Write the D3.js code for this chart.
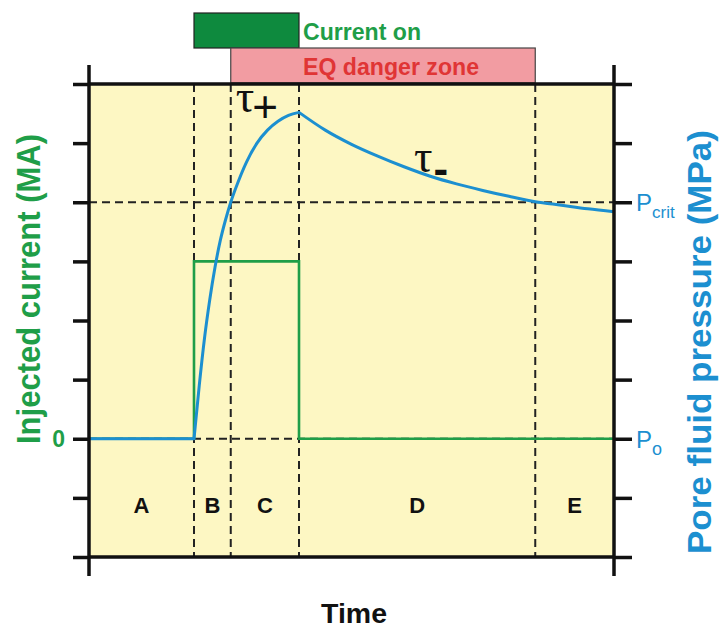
<!DOCTYPE html>
<html><head><meta charset="utf-8">
<script src="https://cdn.jsdelivr.net/npm/d3@7"></script>
<style>body{margin:0;background:#fff}svg{display:block}</style>
</head><body>
<script>
// ---- data ----
const phaseBounds = [20, 27, 40, 85];           // time of phase boundaries
const phaseLabels = ["A", "B", "C", "D", "E"];
const yTicks = [-2, -1, 0, 1, 2, 3, 4, 5, 6];
const currentTime  = [0, 20, 20, 40, 40, 100];
const currentValue = [0, 0, 3, 3, 0, 0];
// pressure, split into flat / rise / decay segments (sharp corners at 20 and 40)
const flatTime  = [0, 20];
const flatValue = [0, 0];
const riseTime  = [20, 21, 22, 23, 24, 25, 26, 27, 28, 30, 32, 34, 36, 38, 40];
const riseValue = [0, 0.9, 1.7, 2.35, 2.9, 3.35, 3.7, 4.0, 4.25, 4.68, 5.0, 5.22, 5.37, 5.47, 5.52];
const decayTime  = [40, 45, 50, 55, 60, 65, 70, 75, 80, 85, 90, 95, 100];
const decayValue = [5.52, 5.22, 4.98, 4.78, 4.60, 4.44, 4.31, 4.20, 4.10, 4.01, 3.95, 3.89, 3.84];
const pCrit = 4, pZero = 0;
const currentOn = [20, 40];
const dangerZone = [27, 85];

// ---- layout ----
const W = 720, H = 629;
const svg = d3.select("body").append("svg").attr("width", W).attr("height", H);
const x = d3.scaleLinear().domain([0, 100]).range([89, 614]);
const y = d3.scaleLinear().domain([-2, 6]).range([557, 84]);
const green = "#1f9e48", blue = "#1c8fd0";
const sans = "Liberation Sans, Arial, sans-serif", serif = "Liberation Serif, Times New Roman, serif";

// background
svg.append("rect").attr("x", x(0)).attr("y", y(6)).attr("width", x(100) - x(0)).attr("height", y(-2) - y(6)).attr("fill", "#fdf7c3");

// top annotation bars
svg.append("rect").attr("x", x(currentOn[0])).attr("y", 13).attr("width", x(currentOn[1]) - x(currentOn[0])).attr("height", 35)
  .attr("fill", "#0e8a3e").attr("stroke", "#222").attr("stroke-width", 1.2);
svg.append("rect").attr("x", x(dangerZone[0])).attr("y", 48).attr("width", x(dangerZone[1]) - x(dangerZone[0])).attr("height", 35)
  .attr("fill", "#f29ca2").attr("stroke", "#444").attr("stroke-width", 1.2);
svg.append("text").attr("x", x(currentOn[1]) + 4).attr("y", 40).text("Current on")
  .attr("font-family", sans).attr("font-weight", "bold").attr("font-size", 24).attr("fill", green)
  .attr("textLength", 118).attr("lengthAdjust", "spacingAndGlyphs");
svg.append("text").attr("x", x(currentOn[1]) + 4).attr("y", 75).text("EQ danger zone")
  .attr("font-family", sans).attr("font-weight", "bold").attr("font-size", 24).attr("fill", "#e03535")
  .attr("textLength", 176).attr("lengthAdjust", "spacingAndGlyphs");

// dashed guides
const dash = "8,5";
phaseBounds.forEach(b => svg.append("line").attr("x1", x(b)).attr("x2", x(b)).attr("y1", y(6)).attr("y2", y(-2))
  .attr("stroke", "#222").attr("stroke-width", 2).attr("stroke-dasharray", dash));
[pCrit, pZero].forEach(v => svg.append("line").attr("x1", x(0)).attr("x2", x(100)).attr("y1", y(v)).attr("y2", y(v))
  .attr("stroke", "#222").attr("stroke-width", 2).attr("stroke-dasharray", dash));

// current line
const line = d3.line().x(d => x(d[0])).y(d => y(d[1]));
svg.append("path").attr("d", line(currentTime.map((t, i) => [t, currentValue[i]])))
  .attr("fill", "none").attr("stroke", green).attr("stroke-width", 2.6);
// pressure curve
const pline = d3.line().x(d => x(d[0])).y(d => y(d[1])).curve(d3.curveMonotoneX);
const zip = (ts, vs) => ts.map((t, i) => [t, vs[i]]);
const pd = pline(zip(flatTime, flatValue)) + pline(zip(riseTime, riseValue)).replace(/^M[^CL]*/, m => "L" + m.slice(1)) +
           pline(zip(decayTime, decayValue)).replace(/^M[^CL]*/, m => "L" + m.slice(1));
svg.append("path").attr("d", pd).attr("fill", "none").attr("stroke", blue).attr("stroke-width", 3).attr("stroke-linejoin", "round");

// frame & axes
const ax = svg.append("g");
ax.append("g").attr("transform", `translate(${x(0)},0)`).call(d3.axisLeft(y).tickValues(yTicks).tickSize(16).tickFormat(""));
ax.append("g").attr("transform", `translate(${x(100)},0)`).call(d3.axisRight(y).tickValues(yTicks).tickSize(18).tickFormat(""));
ax.selectAll(".domain").remove();
ax.selectAll("line").attr("stroke", "#111").attr("stroke-width", 3.5);
[[x(0), 65, x(0), 576], [x(100), 65, x(100), 576], [x(0), y(6), x(100), y(6)], [x(0), y(-2), x(100), y(-2)]]
  .forEach(([x1, y1, x2, y2]) => svg.append("line").attr("x1", x1).attr("y1", y1).attr("x2", x2).attr("y2", y2)
    .attr("stroke", "#111").attr("stroke-width", 3.5));

// phase labels
const edges = [0, ...phaseBounds, 100];
phaseLabels.forEach((l, i) => svg.append("text").attr("x", x((edges[i] + edges[i + 1]) / 2)).attr("y", 513)
  .attr("text-anchor", "middle").text(l).attr("font-family", sans)
  .attr("font-weight", "bold").attr("font-size", 22).attr("fill", "#111"));

// tau labels
const tp = svg.append("text").attr("x", x(27) + 5).attr("y", 112).attr("font-family", serif).attr("fill", "#111");
tp.append("tspan").text("τ").attr("font-size", 46);
tp.append("tspan").text("+").attr("font-size", 44).attr("font-family", sans).attr("dy", 10).attr("dx", -2);
const tm = svg.append("text").attr("x", 414).attr("y", 172).attr("font-family", serif).attr("fill", "#111");
tm.append("tspan").text("τ").attr("font-size", 46);
tm.append("tspan").text("-").attr("font-size", 44).attr("font-family", sans).attr("font-weight", "bold").attr("dy", 12).attr("dx", 1);

// axis value labels
svg.append("text").attr("x", 65).attr("y", y(0) + 8).attr("text-anchor", "end").text("0")
  .attr("font-family", sans).attr("font-weight", "bold").attr("font-size", 23).attr("fill", green);
const pc = svg.append("text").attr("x", 636).attr("y", y(pCrit) + 9).attr("font-family", sans).attr("fill", blue);
pc.append("tspan").text("P").attr("font-size", 24);
pc.append("tspan").text("crit").attr("font-size", 17).attr("dy", 7);
const p0 = svg.append("text").attr("x", 636).attr("y", y(pZero) + 9).attr("font-family", sans).attr("fill", blue);
p0.append("tspan").text("P").attr("font-size", 24);
p0.append("tspan").text("o").attr("font-size", 18).attr("dy", 7);

// axis titles
svg.append("text").attr("transform", `translate(40,289) rotate(-90)`).attr("text-anchor", "middle").text("Injected current (MA)")
  .attr("font-family", sans).attr("font-weight", "bold").attr("font-size", 34).attr("fill", green)
  .attr("textLength", 310).attr("lengthAdjust", "spacingAndGlyphs");
svg.append("text").attr("transform", `translate(711,342) rotate(-90)`).attr("text-anchor", "middle").text("Pore fluid pressure (MPa)")
  .attr("font-family", sans).attr("font-weight", "bold").attr("font-size", 33).attr("fill", blue)
  .attr("textLength", 424).attr("lengthAdjust", "spacingAndGlyphs");
svg.append("text").attr("x", 354).attr("y", 623).attr("text-anchor", "middle").text("Time")
  .attr("font-family", sans).attr("font-weight", "bold").attr("font-size", 27).attr("fill", "#111")
  .attr("textLength", 66).attr("lengthAdjust", "spacingAndGlyphs");
</script>
</body></html>
